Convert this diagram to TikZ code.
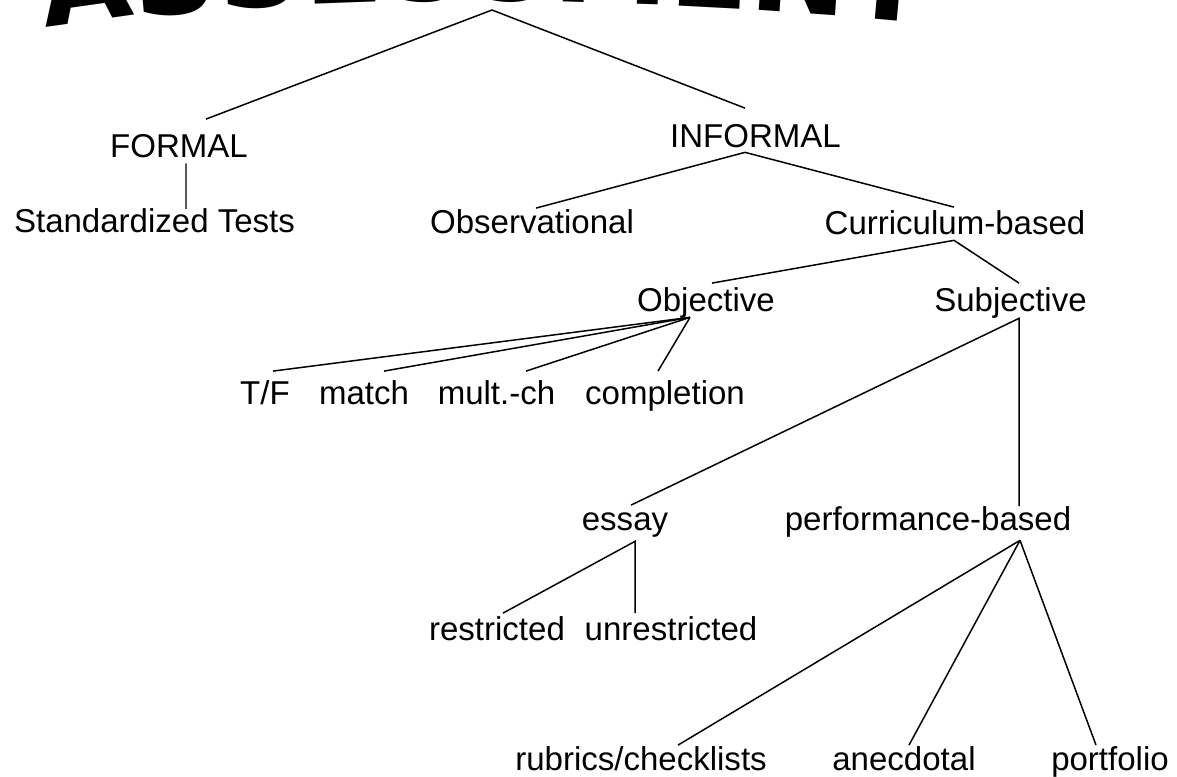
\documentclass[tikz,border=0pt]{standalone}
\usepackage{fontspec}
\setmainfont{Liberation Sans}
\newfontfamily\titlefont{DejaVu Sans}
\usetikzlibrary{calc}

\tikzset{
	lbl/.style={font=\fontsize{18.8}{22}\selectfont, inner sep=0pt, text height=13.4pt, text depth=0pt, anchor=base},
	ttl/.style={font=\titlefont\bfseries\fontsize{66.6}{66.6}\selectfont, inner sep=0pt, anchor=base},
	conn/.style={line width=0.85pt}
}

\begin{document}
\begin{tikzpicture}[x=0.02cm,y=-0.02cm]
	\useasboundingbox (0,0) rectangle (1177,777);
	% arched title, only its lower part is on the page
	\begin{scope}
		\clip (0,0) rectangle (1177,777);
		\foreach \ch/\xx/\yy/\rr [count=\i] in {A/90.3/21.5/8, S/177.7/13.6/4.9, S/261.9/7.4/3.5, E/344/3.3/2.1, S/426/1.3/0.7, S/510.2/1.2/-0.5, M/610.5/3.1/-1.8, E/708.7/7.2/-3, N/797.6/12.7/-4.1, T/886.4/19.8/-5.2}
			\node[ttl,rotate=\rr] (ttl\i) at (\xx,\yy) {\ch};
	\end{scope}
	\coordinate (apx) at (492,10);

	\node[lbl] (frm) at (179,157) {FORMAL};
	\node[lbl] (std) at (154.5,233) {Standardized Tests};
	\node[lbl] (inf) at (755.5,148) {INFORMAL};
	\node[lbl] (obs) at (532,234) {Observational};
	\node[lbl] (cur) at (955,235) {Curriculum-based};
	\node[lbl] (obj) at (706,311) {Objective};
	\node[lbl] (sbj) at (1010.5,311) {Subjective};

	\node[lbl] (tf) at (265,404) {T/F};
	\node[lbl] (mat) at (364,404) {match};
	\node[lbl] (mch) at (496.5,404) {mult.-ch};
	\node[lbl] (cmp) at (665,404) {completion};

	\node[lbl] (ess) at (625,530) {essay};
	\node[lbl] (pfb) at (928,530) {performance-based};
	\node[lbl] (res) at (497,640) {restricted};
	\node[lbl] (unr) at (671,640) {unrestricted};

	\node[lbl] (rub) at (641,770) {rubrics/checklists};
	\node[lbl] (anc) at (904,770) {anecdotal};
	\node[lbl] (prt) at (1110,770) {portfolio};

	% branches
	\draw[conn] ($(frm.north)+(27,-14)$) -- (apx) -- ($(inf.north)+(-10.5,-16)$);
	\draw[conn] ($(frm.south)+(7,6)$) -- ($(std.north)+(31.5,0)$);
	\draw[conn] ($(obs.north)+(4,-2)$) -- ($(inf.south)+(-10.5,4)$) -- ($(cur.north)+(-1,-4)$);
	\draw[conn] ($(obj.north)+(6,-4)$) -- ($(cur.south)+(-1,5)$) -- ($(sbj.north)+(8.5,-4)$);
	\foreach \n/\dx in {tf/8, mat/20, mch/29.5, cmp/-7}
		\draw[conn] ($(obj.south)+(-16,6)$) -- ($(\n.north)+(\dx,-9)$);
	\draw[conn] ($(ess.north)+(6,-1)$) -- ($(sbj.south)+(8.5,7)$) -- ($(pfb.north)+(91,0)$);
	\draw[conn] ($(res.north)+(6,-3)$) -- ($(ess.south)+(10,11)$) -- ($(unr.north)+(-36,-3)$);
	\foreach \n/\dx in {rub/37, anc/5, prt/-14}
		\draw[conn] ($(pfb.south)+(92,10)$) -- ($(\n.north)+(\dx,-1)$);
\end{tikzpicture}
\end{document}
